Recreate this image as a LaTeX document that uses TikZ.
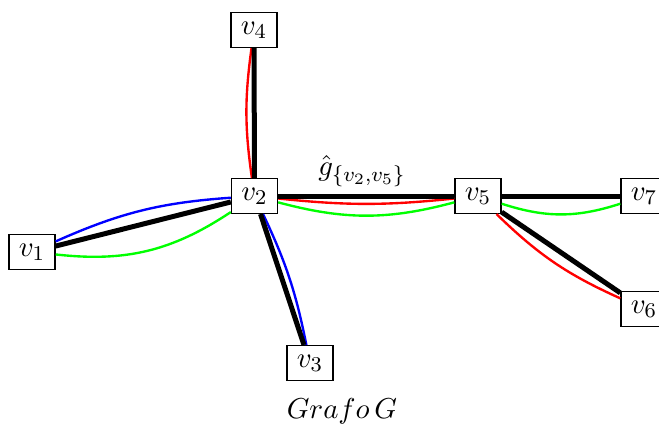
\documentclass[tikz,border=0pt]{standalone}
\begin{document}
\begin{tikzpicture}[x=0.38pt,y=-0.38pt,
  every node/.style={font=\fontsize{11.2}{13}\selectfont},
  vbox/.style={draw,line width=0.5pt,fill=white,minimum width=17.5pt,minimum height=13.2pt,inner sep=0pt},
  thickedge/.style={line width=1.9pt,black},
  cedge/.style={line width=0.9pt}]
\useasboundingbox (0,0) rectangle (659,434);
\begin{scope}
\clip (0,0) rectangle (659,434);
\coordinate (p1) at (32,252);
\coordinate (p2) at (254.5,196);
\coordinate (p3) at (310,363);
\coordinate (p4) at (254,30);
\coordinate (p5) at (478,196);
\coordinate (p6) at (644,309);
\coordinate (p7) at (644,196);
\node[vbox] (v1) at (p1) {$v_1$};
\node[vbox] (v2) at (p2) {$v_2$};
\node[vbox] (v3) at (p3) {$v_3$};
\node[vbox] (v4) at (p4) {$v_4$};
\node[vbox] (v5) at (p5) {$v_5$};
\node[vbox] (v6) at (p6) {$v_6$};
\node[vbox] (v7) at (p7) {$v_7$};
% coloured edges
\draw[cedge,blue] (v1) to[bend left=10] (v2);
\draw[cedge,green] (v1) to[bend right=20] (v2);
\draw[cedge,red] (v2) to[bend left=8] (v4);
\draw[cedge,blue] (v2) to[bend left=7] (v3);
\draw[cedge,red] (v2) to[bend right=6] (v5);
\draw[cedge,green] (v2) to[bend right=15] (v5);
\draw[cedge,green] (v5) to[bend right=18] (v7);
\draw[cedge,red] (v5) to[bend right=10] (v6);
% thick edges
\draw[thickedge] (v1) -- (v2);
\draw[thickedge] (v2) -- (v4);
\draw[thickedge] (v2) -- (v3);
\draw[thickedge] (v2) -- (v5);
\draw[thickedge] (v5) -- (v7);
\draw[thickedge] (v5) -- (v6);
\node (lab) at (362,171) {$\hat{g}_{\{v_2,v_5\}}$};
\node (cap) at (342,411) {$Grafo\,G$};
\end{scope}
\end{tikzpicture}
\end{document}
